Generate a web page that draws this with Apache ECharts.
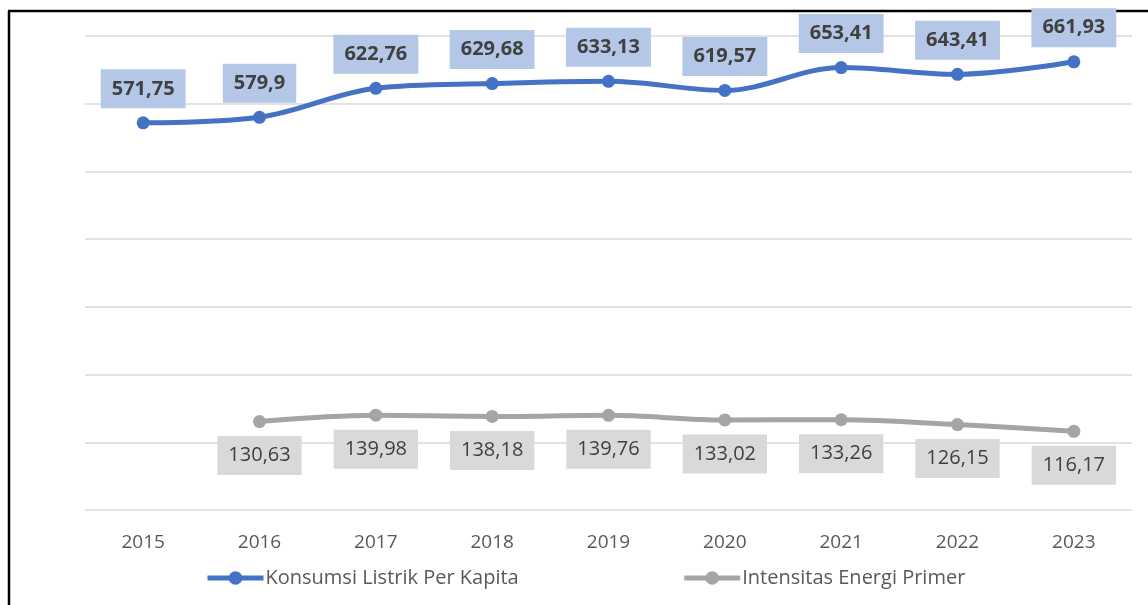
<!DOCTYPE html>
<html>
<head>
<meta charset="utf-8">
<script src="https://cdn.jsdelivr.net/npm/echarts@6/dist/echarts.min.js"></script>
<style>
    html, body { margin: 0; padding: 0; background: #fff; }
    #chart { width: 1148px; height: 605px; }
</style>
</head>
<body>
<div id="chart"></div>
<script>
// data
const years = ['2015', '2016', '2017', '2018', '2019', '2020', '2021', '2022', '2023']
const konsumsiListrik = [571.75, 579.9, 622.76, 629.68, 633.13, 619.57, 653.41, 643.41, 661.93]
// no value for 2015 on the grey line
const intensitasEnergi = [null, 130.63, 139.98, 138.18, 139.76, 133.02, 133.26, 126.15, 116.17]

const font = '"Open Sans", "Noto Sans", sans-serif'
// comma as decimal sign, like the source
const fmt = p => String(p.value).replace('.', ',')

const chart = echarts.init(document.getElementById('chart'))

const option = {
    backgroundColor: '#fff',
    animation: false,
    textStyle: { fontFamily: font },
    grid: {
        left: 85,
        right: 16,
        top: 36,
        bottom: 95
    },
    legend: {
        bottom: 12,
        left: 200,
        itemGap: 163,
        itemWidth: 56,
        itemHeight: 17,
        lineStyle: { width: 5 },
        textStyle: { fontSize: 20, color: '#595959', fontFamily: font, padding: [0, 0, 0, -3] },
        data: ['Konsumsi Listrik Per Kapita', 'Intensitas Energi Primer']
    },
    xAxis: {
        type: 'category',
        data: years,
        boundaryGap: true,
        axisLine: { show: false },
        axisTick: { show: false },
        axisLabel: { color: '#595959', fontSize: 19, margin: 23 }
    },
    yAxis: {
        type: 'value',
        min: 0,
        max: 700,
        interval: 100,
        axisLabel: { show: false },
        axisLine: { show: false },
        axisTick: { show: false },
        splitLine: { lineStyle: { color: '#D9D9D9', width: 1.5 } }
    },
    series: [
        {
            name: 'Konsumsi Listrik Per Kapita',
            type: 'line',
            data: konsumsiListrik,
            smooth: 0.35,
            symbol: 'circle',
            symbolSize: 13,
            itemStyle: { color: '#4472C4' },
            lineStyle: { color: '#4472C4', width: 5 },
            label: {
                show: true,
                position: 'top',
                distance: 8,
                formatter: fmt,
                fontSize: 20,
                fontWeight: 'bold',
                color: '#404040',
                backgroundColor: '#B4C7E7',
                padding: [9, 11],
                lineHeight: 21
            }
        },
        {
            name: 'Intensitas Energi Primer',
            type: 'line',
            data: intensitasEnergi,
            smooth: 0.35,
            symbol: 'circle',
            symbolSize: 13,
            itemStyle: { color: '#A5A5A5' },
            lineStyle: { color: '#A5A5A5', width: 5 },
            label: {
                show: true,
                position: 'bottom',
                distance: 8,
                formatter: fmt,
                fontSize: 20,
                color: '#404040',
                backgroundColor: '#D9D9D9',
                padding: [9, 11],
                lineHeight: 21
            }
        }
    ],
    // frame of the embedded picture (top and left edges are visible)
    graphic: [
        {
            type: 'line',
            shape: { x1: 8, y1: 11, x2: 1148, y2: 11 },
            style: { stroke: '#000', lineWidth: 2.5 },
            silent: true
        },
        {
            type: 'line',
            shape: { x1: 9, y1: 11, x2: 9, y2: 605 },
            style: { stroke: '#000', lineWidth: 2.5 },
            silent: true
        }
    ]
}

chart.setOption(option)
</script>
</body>
</html>
